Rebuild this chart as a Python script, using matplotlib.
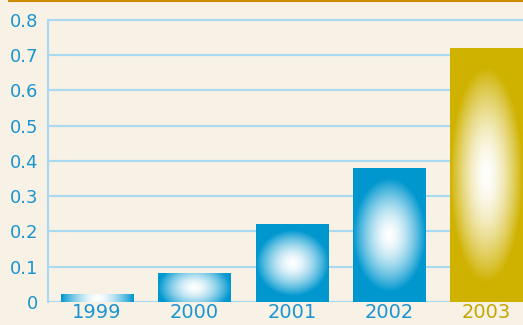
import numpy as np
import matplotlib.pyplot as plt
from matplotlib.colors import to_rgb

years = ['1999', '2000', '2001', '2002', '2003']
values = [0.02, 0.08, 0.22, 0.38, 0.72]
bar_colors = ['#0097cf', '#0097cf', '#0097cf', '#0097cf', '#cfb200']
label_colors = ['#1b95cf', '#1b95cf', '#1b95cf', '#1b95cf', '#c4a800']

bg = '#f8f1e6'
grid_col = '#aad9f2'
width = 0.74

fig = plt.figure(figsize=(5.23, 3.25), dpi=100, facecolor=bg)
ax = fig.add_axes([0.0918, 0.0708, 0.9082, 0.8677], facecolor=bg)

ax.set_xlim(-0.504, 4.375)
ax.set_ylim(0, 0.8)
ax.set_yticks(np.arange(0, 0.81, 0.1))
ax.set_yticklabels(['0'] + ['%.1f' % v for v in np.arange(0.1, 0.81, 0.1)])
ax.grid(axis='y', color=grid_col, linewidth=1.5, zorder=0)
ax.set_axisbelow(True)

for side in ['top', 'right', 'bottom']:
    ax.spines[side].set_visible(False)
ax.spines['left'].set_color(grid_col)
ax.spines['left'].set_linewidth(1.5)
ax.axhline(0, color=grid_col, linewidth=1.5, zorder=1)
ax.axhline(0.8, color=grid_col, linewidth=1.5, zorder=1, clip_on=False)

ax.tick_params(axis='y', length=0, labelsize=13, colors='#1b95cf', pad=7)
ax.tick_params(axis='x', length=0, labelsize=14, pad=1)

x = np.arange(len(years))
ax.set_xticks(x)
ax.set_xticklabels(years)
for lbl, c in zip(ax.get_xticklabels(), label_colors):
    lbl.set_color(c)

# pixel scale to keep the glow round-ish on short bars
px_y = 0.8 / (0.8677 * 325)

# bars drawn as images with a radial white glow in the middle
for xi, v, c in zip(x, values, bar_colors):
    base = np.array(to_rgb(c))
    n = 160
    gx = np.linspace(-1, 1, n)
    gy = np.linspace(-1, 1, n)
    X, Y = np.meshgrid(gx, gy)
    hh = v / 2
    ry = max(hh * 0.85, 24 * px_y) / hh
    r = np.sqrt((X / 1.0) ** 2 + (Y / ry) ** 2)
    t = np.clip(r, 0, 1) ** 1.6
    img = (1 - t)[..., None] * np.ones(3) + t[..., None] * base
    ax.imshow(img, extent=(xi - width / 2, xi + width / 2, 0, v),
              aspect='auto', interpolation='bilinear', zorder=2)

ax.set_xlim(-0.504, 4.375)
ax.set_ylim(0, 0.8)

# thin rule across the top of the panel
fig.add_artist(plt.Line2D([9 / 523, 1], [1 - 1 / 325, 1 - 1 / 325],
                          color='#cc8a00', linewidth=1.5))

fig.savefig('out.png', dpi=100, facecolor=bg)
